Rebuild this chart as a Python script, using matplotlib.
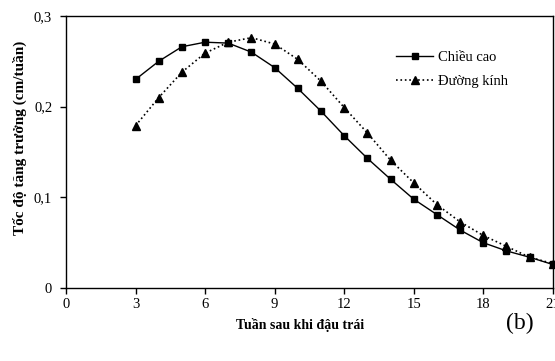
import numpy as np
import matplotlib.pyplot as plt
from matplotlib.ticker import FuncFormatter

plt.rcParams['font.family'] = ['Liberation Serif', 'DejaVu Serif']

weeks = [3, 4, 5, 6, 7, 8, 9, 10, 11, 12, 13, 14, 15, 16, 17, 18, 19, 20, 21]
chieu_cao = [0.230, 0.250, 0.266, 0.271, 0.270, 0.260, 0.243, 0.220, 0.195, 0.168,
             0.143, 0.120, 0.098, 0.081, 0.064, 0.050, 0.041, 0.034, 0.026]
duong_kinh = [0.179, 0.210, 0.238, 0.259, 0.271, 0.276, 0.269, 0.252, 0.228, 0.199,
              0.171, 0.141, 0.116, 0.092, 0.073, 0.058, 0.046, 0.034, 0.027]
x_ticks = [0, 3, 6, 9, 12, 15, 18, 21]
y_ticks = [0, 0.1, 0.2, 0.3]

fig = plt.figure(figsize=(5.55, 3.61), dpi=100)
ax = fig.add_axes([0.119, 0.202, 0.877, 0.754])

ax.plot(weeks, chieu_cao, '-', color='black', lw=1, marker='s', ms=5,
        label='Chiều cao', clip_on=False)
ax.plot(weeks, duong_kinh, ':', color='black', lw=1.2, marker='^', ms=5.5,
        label='Đường kính', clip_on=False)

ax.set_xlim(0, 21)
ax.set_ylim(0, 0.3)
ax.set_xticks(x_ticks)
ax.set_yticks(y_ticks)
ax.yaxis.set_major_formatter(FuncFormatter(lambda v, p: '0' if v == 0 else ('%.1f' % v).replace('.', ',')))
ax.tick_params(direction='out', length=4, width=1, labelsize=10.5)
ax.tick_params(axis='x', pad=3)
ax.tick_params(axis='y', pad=6)
for s in ax.spines.values():
    s.set_linewidth(1)

ax.set_xlabel('Tuần sau khi đậu trái', fontsize=10, fontweight='bold')
ax.xaxis.set_label_coords(0.48, -0.11)
ax.set_ylabel('Tốc độ tăng trưởng (cm/tuần)', fontsize=11, fontweight='bold')
ax.yaxis.set_label_coords(-0.08, 0.55)

ax.legend(loc='upper left', bbox_to_anchor=(0.65, 0.92), frameon=False,
          fontsize=10.5, handlelength=2.6, handletextpad=0.3, labelspacing=0.75)

fig.text(0.937, 0.105, '(b)', fontsize=17, ha='center', va='center')

fig.savefig('out.png', dpi=100)
